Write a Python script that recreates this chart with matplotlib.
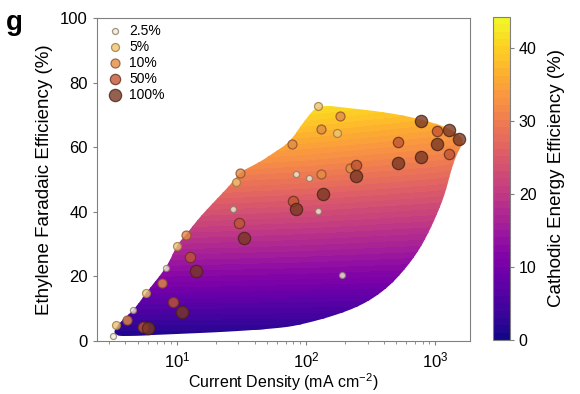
import numpy as np
import matplotlib
matplotlib.use('Agg')
import matplotlib.pyplot as plt
from matplotlib.patches import Polygon

plt.rcParams['font.family'] = ['Liberation Sans', 'DejaVu Sans']
plt.rcParams['mathtext.default'] = 'regular'

# Measured points: current density (mA cm-2) and ethylene FE (%) per loading
j_25 = [3.2, 4.6, 8.3, 27.3, 83.6, 106, 124, 189]
fe_25 = [1.6, 9.6, 22.5, 40.9, 51.6, 50.6, 40.3, 20.3]
j_5 = [3.4, 5.8, 10, 28.6, 124, 173]
fe_5 = [5.0, 15.0, 29.5, 49.3, 72.8, 64.5]
j_10 = [4.1, 7.7, 11.7, 31, 77.7, 130, 183, 132, 220]
fe_10 = [6.5, 18, 32.8, 52, 60.9, 65.5, 69.7, 51.6, 53.7]
j_50 = [5.5, 9.3, 12.6, 30.4, 80, 244, 520, 1030, 1290]
fe_50 = [4.2, 12, 26, 36.6, 43.2, 54.5, 61.5, 65, 57.9]
j_100 = [6.0, 10.9, 14, 33, 83.6, 136, 244, 520, 780, 1030, 780, 1290, 1530]
fe_100 = [3.9, 9, 21.8, 32, 40.9, 45.5, 51, 55, 57, 61, 68.2, 65.3, 62.5]

labels = ['2.5%', '5%', '10%', '50%', '100%']

# Outline of the shaded region (current density, FE)
bound_j = [3.19, 3.43, 4.64, 5.85, 8.36, 10, 11.7, 15.1, 20.1, 26.7, 30.8, 44,
           57.5, 75.1, 98.2, 124, 219, 448, 766, 1307, 1709, 1523, 1355, 1217,
           1095, 914, 740, 555, 410, 272, 162, 90, 62.8, 25.8, 10.5, 5.2]
bound_fe = [1.5, 4.95, 9.6, 15.2, 22.9, 29.7, 32.8, 38.4, 43.7, 48.9, 52.3, 55.4,
            58.5, 61.6, 68.4, 73.1, 72.1, 70.6, 68.7, 65.9, 62.2, 59.1, 53.9, 46.7,
            41.5, 34.4, 27.6, 21.1, 15.8, 11.1, 7.7, 5.0, 4.0, 2.9, 2.2, 1.7]

# cathodic energy efficiency / FE ratio vs current density
ve_j = [2, 10, 100, 1000, 2000]
ve_ratio = [0.61, 0.60, 0.575, 0.54, 0.52]
cee_max = 44.3


def chaikin(pts, n=2):
    # round the corners of a closed outline
    for _ in range(n):
        nxt = np.roll(pts, -1, axis=0)
        q = 0.75 * pts + 0.25 * nxt
        r = 0.25 * pts + 0.75 * nxt
        pts = np.empty((2 * len(pts), 2))
        pts[0::2] = q
        pts[1::2] = r
    return pts


fig = plt.figure(figsize=(5.8, 3.94), dpi=100)
ax = fig.add_axes([0.167, 0.1345, 0.643, 0.82])
cax = fig.add_axes([0.85, 0.137, 0.029, 0.82])

ax.set_xscale('log')
ax.set_xlim(2.4, 1860)
ax.set_ylim(0, 100)

lj = np.linspace(np.log10(2.4), np.log10(1860), 300)
fe = np.linspace(0, 100, 300)
LJ, FE = np.meshgrid(lj, fe)
CEE = np.minimum(FE * np.interp(LJ, np.log10(ve_j), ve_ratio), cee_max)
cs = ax.contourf(10 ** LJ, FE, CEE, levels=np.linspace(0, cee_max, 45),
                 cmap='plasma', zorder=1)

outline = chaikin(np.column_stack([np.log10(bound_j), bound_fe]))
outline[:, 0] = 10 ** outline[:, 0]
poly = Polygon(outline, closed=True, transform=ax.transData,
               facecolor='none', edgecolor='none')
ax.add_patch(poly)
cs.set_clip_path(poly)

series = [(j_25, fe_25, 19, '#f4ecd6', '#8a7d66'),
          (j_5, fe_5, 33, '#efc374', '#9a7a3e'),
          (j_10, fe_10, 42, '#e38d42', '#8a5030'),
          (j_50, fe_50, 55, '#bf5633', '#6a2e1c'),
          (j_100, fe_100, 78, '#7a3824', '#4a2316')]
for (xs, ys, s, fc, ec), lab in zip(series, labels):
    ax.scatter(xs, ys, s=s, c=fc, edgecolors=ec, linewidths=0.9, alpha=0.8,
               zorder=3, label=lab)

leg = ax.legend(loc='upper left', frameon=False, fontsize=10, labelspacing=0.15,
                handletextpad=0.05, borderaxespad=0.3,
                bbox_to_anchor=(-0.015, 1.012))

for sp in ax.spines.values():
    sp.set_color('#808080')
ax.tick_params(which='both', color='#808080', labelsize=12)
ax.tick_params(which='major', length=3)
ax.tick_params(which='minor', length=2)
ax.set_yticks([0, 20, 40, 60, 80, 100])
ax.set_xlabel('Current Density (mA cm$^{-2}$)', fontsize=11.5, labelpad=1)
ax.set_ylabel('Ethylene Faradaic Efficiency (%)', fontsize=13.5, labelpad=5)

cb = fig.colorbar(cs, cax=cax, ticks=[0, 10, 20, 30, 40])
cb.outline.set_edgecolor('#808080')
cb.ax.tick_params(labelsize=11.5, length=3, color='#808080')
cb.set_label('Cathodic Energy Efficiency (%)', fontsize=13.5, labelpad=8)

fig.text(0.01, 0.975, 'g', fontsize=20, fontweight='bold', va='top')

fig.savefig('out.png', dpi=100)
